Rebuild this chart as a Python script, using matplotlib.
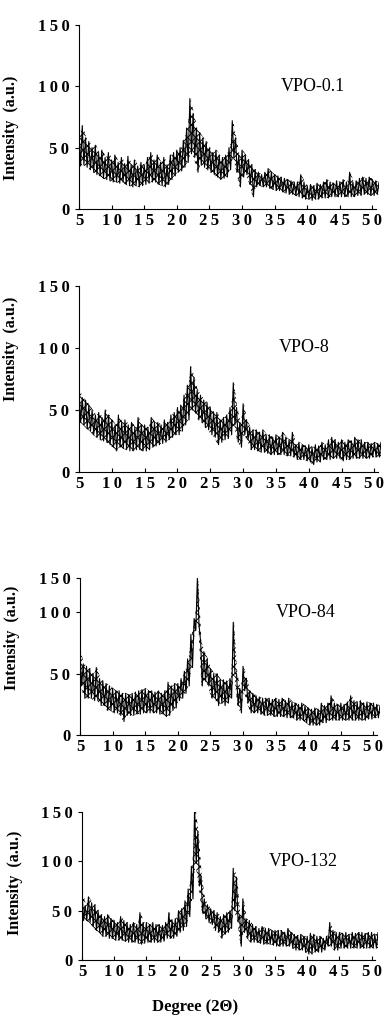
import numpy as np
import matplotlib
matplotlib.use('Agg')
import matplotlib.pyplot as plt

# 2-theta grid, 0.5 deg steps; for every step the top and bottom of the noise band
angles = np.arange(5.0, 51.01, 0.5)
samples = ['VPO-0.1', 'VPO-8', 'VPO-84', 'VPO-132']

hi_01 = [62, 68, 58, 55, 50, 52, 46, 48, 42, 46,
         40, 44, 38, 42, 37, 43, 36, 40, 35, 38,
         36, 42, 46, 40, 44, 38, 42, 36, 44, 46,
         48, 50, 56, 66, 90, 78, 66, 62, 58, 55,
         50, 46, 48, 44, 42, 44, 50, 72, 58, 44,
         48, 44, 40, 36, 32, 30, 28, 30, 33, 30,
         28, 27, 26, 25, 24, 23, 22, 22, 28, 22,
         19, 20, 19, 21, 20, 22, 24, 22, 21, 23,
         22, 24, 22, 30, 22, 23, 25, 26, 25, 26,
         24, 23, 22]
lo_01 = [35, 36, 34, 32, 30, 28, 27, 25, 24, 23,
         22, 22, 21, 22, 20, 19, 18, 19, 18, 19,
         20, 21, 22, 22, 20, 19, 18, 20, 24, 27,
         30, 31, 34, 38, 45, 42, 30, 36, 34, 32,
         30, 28, 26, 24, 25, 26, 32, 42, 30, 18,
         26, 28, 20, 10, 18, 19, 18, 18, 17, 16,
         15, 15, 14, 13, 12, 12, 11, 10, 9, 8,
         8, 7, 8, 8, 9, 9, 9, 10, 10, 10,
         10, 10, 10, 10, 10, 11, 11, 12, 12, 11,
         11, 12, 12]

hi_8 = [66, 60, 58, 54, 50, 46, 48, 44, 50, 46,
        42, 38, 46, 40, 42, 38, 40, 36, 44, 38,
        38, 36, 44, 40, 40, 38, 42, 40, 46, 48,
        52, 54, 62, 70, 85, 76, 66, 62, 58, 56,
        52, 48, 48, 42, 44, 46, 52, 72, 52, 40,
        55, 42, 36, 34, 34, 32, 34, 30, 30, 28,
        30, 28, 32, 28, 26, 32, 22, 24, 22, 21,
        22, 20, 22, 21, 24, 22, 26, 28, 26, 24,
        26, 24, 26, 25, 28, 26, 26, 24, 24, 23,
        24, 23, 24]
lo_8 = [40, 38, 35, 33, 30, 28, 26, 25, 24, 22,
        20, 17, 20, 19, 18, 17, 17, 18, 18, 17,
        17, 18, 20, 21, 22, 23, 24, 26, 28, 30,
        30, 33, 38, 42, 50, 48, 42, 40, 36, 34,
        30, 28, 22, 24, 26, 27, 30, 38, 24, 20,
        30, 26, 18, 18, 17, 16, 16, 15, 14, 14,
        14, 14, 14, 13, 13, 12, 10, 10, 10, 9,
        8, 6, 8, 8, 10, 10, 10, 11, 11, 11,
        9, 10, 10, 11, 11, 11, 11, 11, 11, 12,
        12, 12, 12]

hi_84 = [68, 58, 56, 54, 50, 55, 46, 44, 42, 40,
         38, 36, 36, 34, 34, 33, 34, 35, 36, 37,
         38, 36, 36, 35, 36, 34, 36, 43, 40, 42,
         42, 46, 52, 62, 82, 95, 128, 76, 68, 62,
         54, 50, 50, 45, 45, 44, 46, 92, 50, 38,
         56, 46, 36, 34, 32, 31, 30, 30, 30, 29,
         30, 29, 30, 28, 30, 27, 26, 25, 26, 24,
         22, 21, 22, 21, 26, 24, 26, 32, 26, 25,
         26, 25, 27, 32, 28, 27, 28, 26, 27, 26,
         26, 25, 24]
lo_84 = [40, 30, 30, 30, 28, 28, 24, 24, 20, 20,
         18, 18, 16, 11, 16, 16, 16, 17, 17, 18,
         18, 18, 18, 18, 17, 17, 15, 16, 20, 22,
         28, 30, 34, 40, 55, 85, 90, 40, 44, 40,
         30, 30, 24, 26, 24, 26, 30, 50, 24, 18,
         36, 26, 18, 18, 18, 17, 16, 16, 16, 15,
         15, 15, 15, 14, 14, 14, 12, 12, 12, 10,
         8, 8, 8, 8, 10, 10, 12, 12, 12, 12,
         12, 12, 12, 12, 12, 12, 12, 12, 13, 13,
         14, 14, 14]

hi_132 = [70, 55, 64, 58, 56, 50, 46, 44, 46, 42,
          40, 38, 44, 40, 38, 36, 38, 36, 48, 38,
          38, 36, 38, 36, 36, 35, 38, 48, 40, 42,
          50, 52, 60, 72, 95, 155, 130, 85, 62, 56,
          52, 50, 48, 44, 46, 48, 50, 93, 84, 45,
          62, 42, 40, 36, 34, 32, 34, 32, 32, 30,
          30, 30, 30, 28, 32, 28, 26, 25, 26, 24,
          24, 27, 26, 24, 24, 22, 24, 38, 30, 28,
          28, 27, 28, 26, 28, 27, 28, 28, 27, 28,
          28, 26, 28]
lo_132 = [40, 40, 38, 34, 30, 28, 24, 24, 22, 22,
          20, 20, 20, 19, 18, 18, 18, 17, 16, 17,
          18, 18, 18, 18, 18, 19, 22, 22, 22, 24,
          28, 30, 34, 44, 62, 98, 75, 48, 42, 38,
          36, 30, 28, 22, 26, 28, 32, 50, 40, 14,
          28, 22, 18, 18, 18, 17, 16, 16, 16, 15,
          14, 14, 14, 14, 14, 12, 10, 10, 10, 8,
          6, 6, 8, 8, 8, 10, 14, 14, 10, 10,
          12, 12, 12, 12, 12, 12, 12, 12, 12, 12,
          12, 12, 12]

highs = [hi_01, hi_8, hi_84, hi_132]
lows = [lo_01, lo_8, lo_84, lo_132]

x_ticks = [5, 10, 15, 20, 25, 30, 35, 40, 45, 50]
y_ticks = [0, 50, 100, 150]

# panel boxes in pixels: left, bottom (from top of image), width, height
W, H = 385.0, 1017.0
boxes = [(79, 209, 300, 184), (79, 472, 302, 186), (80, 735, 300, 157), (82, 960, 296, 148)]
# third panel in the scan is squeezed: its top tick sits at ~128 on the 0-100 scale
ytops = [150, 150, 128, 150]
label_y = [0.44, 0.66, 0.62, 0.52]
name_x = [36, 35.5, 35, 34]

plt.rcParams['hatch.linewidth'] = 0.7
serif = ['Liberation Serif', 'DejaVu Serif']
thin = '\u2009'
fig = plt.figure(figsize=(W / 100, H / 100), dpi=100)

for i in range(4):
    l, b, w, h = boxes[i]
    ax = fig.add_axes([l / W, 1 - b / H, w / W, h / H])
    hi = np.array(highs[i])
    lo = np.array(lows[i])
    # dotted texture of the dense noise band
    ax.fill_between(angles + 0.125, lo, hi, facecolor='white', edgecolor='black',
                    hatch='xxxx', linewidth=0)
    xz = np.column_stack([angles, angles + 0.25]).ravel()
    yz = np.column_stack([hi, lo]).ravel()
    ax.plot(xz, yz, color='black', lw=0.8)
    ax.set_xlim(5, 51)
    ax.set_ylim(0, ytops[i])
    ax.spines['top'].set_visible(False)
    ax.spines['right'].set_visible(False)
    ax.spines['bottom'].set_bounds(5, 50.5)
    ax.set_xticks(x_ticks)
    ax.set_xticklabels([thin.join(str(t)) for t in x_ticks], family=serif,
                       fontweight='bold', fontsize=12)
    ax.set_yticks([0, 50, 100, ytops[i]])
    ax.set_yticklabels([thin.join(str(t)) for t in y_ticks], family=serif,
                       fontweight='bold', fontsize=12)
    ax.tick_params(axis='x', direction='in', length=3, pad=3)
    ax.tick_params(axis='y', direction='out', length=3, pad=4)
    ax.set_ylabel('Intensity  (a.u.)', family=serif, fontweight='bold', fontsize=11.5)
    ax.yaxis.set_label_coords(-0.2, label_y[i])
    ax.text(name_x[i], 100, samples[i], family=serif, fontsize=13, va='center', ha='left')

fig.text(0.506, 1 - 1007 / H, 'Degree (2\u0398)', family=serif, fontweight='bold',
         fontsize=12, ha='center', va='center')

fig.savefig('out.png', dpi=100)
